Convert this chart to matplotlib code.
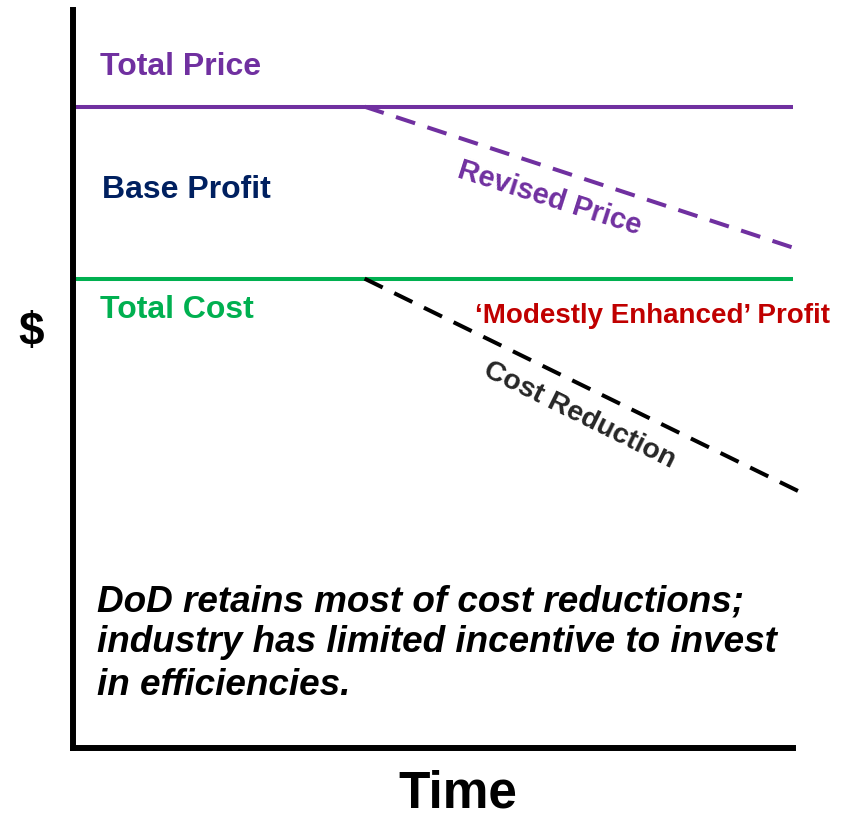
import matplotlib.pyplot as plt

plt.rcParams['font.family'] = ['Liberation Sans', 'DejaVu Sans']

PURPLE = '#7030A0'
GREEN = '#00B050'
NAVY = '#002060'
DARKRED = '#C00000'

# time points and dollar levels (arbitrary units)
time_flat = [0.0, 10.0]
total_price = [8.69, 8.69]
total_cost = [6.36, 6.36]

time_cut = [4.05, 10.0]
revised_price = [8.69, 6.78]
time_cost_cut = [4.05, 10.18]
cost_reduction = [6.36, 3.43]

note_lines = [
    'DoD retains most of cost reductions;',
    'industry has limited incentive to invest',
    'in efficiencies.',
]
note_baselines = [1.843, 1.301, 0.718]

fig = plt.figure(figsize=(8.47, 8.18), dpi=100)
ax = fig.add_axes([73 / 847, 70 / 818, 720 / 847, 738 / 818])
ax.set_xlim(0, 10)
ax.set_ylim(0, 10)

ax.plot(time_flat, total_price, color=PURPLE, lw=2.9, solid_capstyle='butt')
ax.plot(time_flat, total_cost, color=GREEN, lw=2.9, solid_capstyle='butt')
ax.plot(time_cut, revised_price, color=PURPLE, lw=2.9, ls=(0, (5, 3.2)), clip_on=False)
ax.plot(time_cost_cut, cost_reduction, color='black', lw=2.9, ls=(0, (5, 3.2)), clip_on=False)

for side in ['top', 'right']:
    ax.spines[side].set_visible(False)
for side in ['left', 'bottom']:
    ax.spines[side].set_linewidth(4.3)
    ax.spines[side].set_capstyle('projecting')
ax.set_xticks([])
ax.set_yticks([])

ax.text(0.38, 9.12, 'Total Price', color=PURPLE, fontsize=23, fontweight='bold', va='baseline')
ax.text(0.40, 7.45, 'Base Profit', color=NAVY, fontsize=23, fontweight='bold', va='baseline')
ax.text(0.38, 5.83, 'Total Cost', color=GREEN, fontsize=23, fontweight='bold', va='baseline')
ax.text(6.62, 7.45, 'Revised Price', color=PURPLE, fontsize=21, fontweight='bold',
        rotation=-17.6, ha='center', va='center', rotation_mode='anchor')
ax.text(5.59, 5.76, '\u2018Modestly Enhanced\u2019 Profit', color=DARKRED, fontsize=20,
        fontweight='bold', va='baseline')
ax.text(7.04, 4.51, 'Cost Reduction', color='#262626', fontsize=20.5, fontweight='bold',
        rotation=-26.3, ha='center', va='center', rotation_mode='anchor')

for line, y in zip(note_lines, note_baselines):
    ax.text(0.33, y, line, fontsize=26.6, fontweight='bold', style='italic', va='baseline')

fig.text(31 / 847, 1 - 333 / 818, '$', fontsize=33, fontweight='bold', ha='center', va='center')
fig.text(458 / 847, 1 - 807 / 818, 'Time', fontsize=37, fontweight='bold', ha='center', va='baseline')

fig.savefig('out.png', dpi=100)
